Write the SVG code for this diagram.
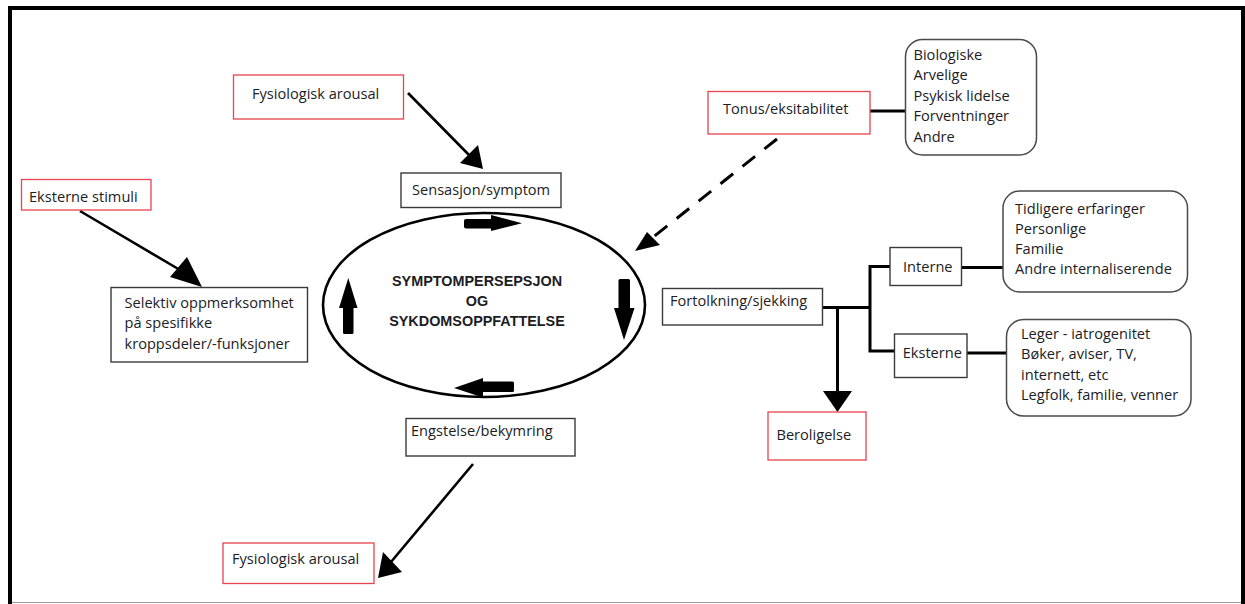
<svg xmlns="http://www.w3.org/2000/svg" width="1245" height="604" viewBox="0 0 1245 604">
<style>
text{font-family:"Open Sans","Liberation Sans",sans-serif;font-size:14.6px;fill:#1c1c24}
.bold{font-family:"Liberation Sans",Arial,sans-serif;font-weight:bold;font-size:14.4px;text-anchor:middle}
.red{fill:#fff;stroke:#e8434e;stroke-width:1.3}
.blk{fill:#fff;stroke:#3a3a3a;stroke-width:1.4}
.rnd{fill:#fff;stroke:#4a4a4a;stroke-width:1.5}
.ln{stroke:#000;stroke-width:2.6;fill:none}
.thick{stroke:#000;stroke-width:3;fill:none}
.dash{stroke:#000;stroke-width:3;fill:none;stroke-dasharray:16 12}
.hd{fill:#000}
</style>
<rect width="1245" height="604" fill="#fff"/>
<g id="frame">
<rect x="8" y="6" width="1237" height="4" fill="#000"/>
<rect x="8" y="6" width="4" height="598" fill="#000"/>
<rect x="1241" y="6" width="4" height="598" fill="#000"/>
<line x1="12" y1="602.5" x2="1241" y2="602.5" stroke="#999" stroke-width="1"/>
</g>
<g id="connectors">
<line class="ln" x1="408" y1="93" x2="470" y2="156"/>
<polygon class="hd" points="460,163 478,145 483,169"/>
<line class="ln" x1="80" y1="211" x2="180" y2="270"/>
<polygon class="hd" points="170,277 187,257 202,287"/>
<line class="ln" x1="473" y1="464" x2="391" y2="562"/>
<polygon class="hd" points="383,552 402,572 378,578"/>
<line class="dash" x1="777" y1="139" x2="652" y2="238"/>
<polygon class="hd" points="647,232 660,245 635,251"/>
<line class="thick" x1="870" y1="111" x2="905" y2="111"/>
<polyline class="thick" points="822,307.5 870,307.5"/>
<polyline class="thick" points="890,266.5 870,266.5 870,351 894,351"/>
<line class="thick" x1="961" y1="267.5" x2="1003" y2="267.5"/>
<line class="thick" x1="967" y1="353" x2="1006" y2="353"/>
<line class="thick" x1="837.5" y1="307.5" x2="837.5" y2="393"/>
<polygon class="hd" points="823,391 852,391 837.5,412"/>
</g>
<g id="cycle">
<ellipse cx="484" cy="305" rx="161" ry="92" fill="none" stroke="#000" stroke-width="2.6"/>
<rect x="464" y="219" width="30" height="9.5" rx="2" class="hd"/>
<polygon class="hd" points="491,215 522,223.3 491,231"/>
<rect x="618.5" y="279" width="11.5" height="31" rx="1.5" class="hd"/>
<polygon class="hd" points="614,308 634.5,308 624,340"/>
<rect x="481" y="381.5" width="33" height="10.5" rx="1.5" class="hd"/>
<polygon class="hd" points="483,378 454,388 483,397.5"/>
<rect x="343" y="306" width="10.5" height="28" rx="1.5" class="hd"/>
<polygon class="hd" points="339,308 357.5,308 348.3,278"/>
<text class="bold" x="477" y="286">SYMPTOMPERSEPSJON</text>
<text class="bold" x="477" y="306">OG</text>
<text class="bold" x="477" y="326">SYKDOMSOPPFATTELSE</text>
</g>
<g id="fys-top"><rect class="red" x="233.5" y="75" width="170" height="44"/><text x="252" y="99">Fysiologisk arousal</text></g>
<g id="eksterne-stimuli"><rect class="red" x="21.5" y="179.5" width="129.5" height="30.5"/><text x="29" y="202">Eksterne stimuli</text></g>
<g id="sensasjon"><rect class="blk" x="401" y="173" width="160" height="34.5"/><text x="412" y="195">Sensasjon/symptom</text></g>
<g id="selektiv"><rect class="blk" x="111" y="287.5" width="196.5" height="74.5"/>
<text x="124.5" y="307.5">Selektiv oppmerksomhet</text><text x="124.5" y="328">på spesifikke</text><text x="124.5" y="348.5">kroppsdeler/-funksjoner</text></g>
<g id="engstelse"><rect class="blk" x="406" y="418.5" width="169" height="37.5"/><text x="411" y="436">Engstelse/bekymring</text></g>
<g id="fys-bottom"><rect class="red" x="223" y="543" width="151" height="40.5"/><text x="232" y="563.5">Fysiologisk arousal</text></g>
<g id="tonus"><rect class="red" x="708" y="91.5" width="162" height="42.5"/><text x="723" y="113.5">Tonus/eksitabilitet</text></g>
<g id="biologiske"><rect class="rnd" x="905.5" y="39.5" width="131" height="115.5" rx="17"/>
<text x="913.5" y="59.5">Biologiske</text><text x="913.5" y="80">Arvelige</text><text x="913.5" y="100.7">Psykisk lidelse</text><text x="913.5" y="121.3">Forventninger</text><text x="913.5" y="141.8">Andre</text></g>
<g id="fortolkning"><rect class="blk" x="662.5" y="288.5" width="160" height="36.5"/><text x="670" y="306">Fortolkning/sjekking</text></g>
<g id="interne"><rect class="blk" x="890" y="247.5" width="71.5" height="38"/><text x="903" y="271.7">Interne</text></g>
<g id="eksterne"><rect class="blk" x="894.5" y="334" width="72.5" height="43.5"/><text x="902.7" y="357.7">Eksterne</text></g>
<g id="tidligere"><rect class="rnd" x="1003" y="191" width="184.5" height="101" rx="17"/>
<text x="1015" y="213.5">Tidligere erfaringer</text><text x="1015" y="233.5">Personlige</text><text x="1015" y="254">Familie</text><text x="1015" y="274.3">Andre internaliserende</text></g>
<g id="leger"><rect class="rnd" x="1006.5" y="319.5" width="184.5" height="96.5" rx="17"/>
<text x="1021" y="338.5">Leger - iatrogenitet</text><text x="1021" y="359">Bøker, aviser, TV,</text><text x="1021" y="379.5">internett, etc</text><text x="1021" y="400">Legfolk, familie, venner</text></g>
<g id="beroligelse"><rect class="red" x="768" y="412" width="98" height="48"/><text x="776.5" y="440">Beroligelse</text></g>
</svg>
